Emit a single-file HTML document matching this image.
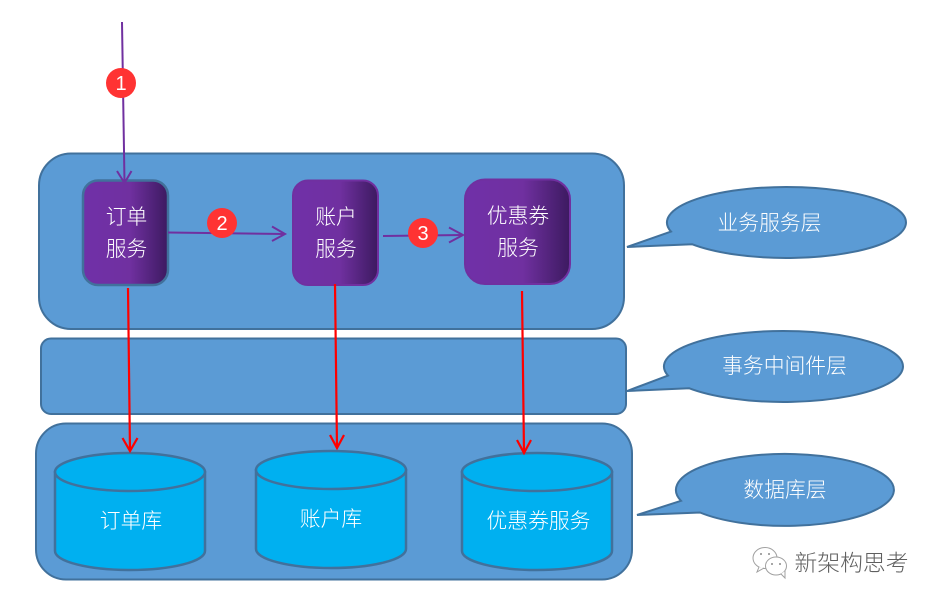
<!DOCTYPE html>
<html><head><meta charset="utf-8"><style>
html,body{margin:0;padding:0;background:#fff}
svg{display:block}
text{font-family:"Liberation Sans","Noto Sans CJK SC",sans-serif;fill:#fff;text-anchor:middle;font-weight:300}
</style></head><body>
<svg width="940" height="604" viewBox="0 0 940 604" xmlns="http://www.w3.org/2000/svg">
<defs>
<linearGradient id="g"><stop offset="0" stop-color="#7030a8"/><stop offset=".55" stop-color="#7030a0"/><stop offset="1" stop-color="#3c1a60"/></linearGradient>
</defs>
<rect width="940" height="604" fill="#fff"/>
<g fill="#5b9bd5" stroke="#41719c" stroke-width="2">
<rect x="39" y="153.500" width="585" height="175.500" rx="32"/>
<rect x="41" y="338.500" width="585" height="75.500" rx="10"/>
<rect x="36" y="423.500" width="596" height="156" rx="30"/>
<path d="M627 247 L671 231.600 A119.500 35.500 0 1 1 692 244.200 Z"/>
<path d="M627 391 L668 375.600 A119.500 35.500 0 1 1 689 388.200 Z"/>
<path d="M637 515 L681 500.800 A109 36 0 1 1 700 512.500 Z"/>
</g>
<g stroke="#41719c" stroke-width="2.500">
<rect x="83" y="180.500" width="85" height="104.500" rx="15" fill="url(#g)"/>
</g>
<g stroke="#7030a0" stroke-width="2">
<rect x="293" y="180.500" width="85" height="104.500" rx="15" fill="url(#g)"/>
<rect x="465" y="179.500" width="105" height="104.500" rx="20" fill="url(#g)"/>
</g>
<g fill="#00b0f0" stroke="#41719c" stroke-width="2.500">
<path d="M55 472 V551 A75 19 0 0 0 205 551 V472 Z"/><ellipse cx="130" cy="472" rx="75" ry="19"/>
<path d="M256 470 V549 A75 19 0 0 0 406 549 V470 Z"/><ellipse cx="331" cy="470" rx="75" ry="19"/>
<path d="M462 472 V551 A75 19 0 0 0 612 551 V472 Z"/><ellipse cx="537" cy="472" rx="75" ry="19"/>
</g>
<g fill="none" stroke="#7030a0" stroke-width="2">
<path d="M122 22 L124.500 183"/><path d="M117 171 L124.500 183 L131.500 171"/>
<path d="M168 232.500 L285 234"/><path d="M272 226.500 L285 234 L272 241"/>
<path d="M383 236 L463 235"/><path d="M449 227.500 L463 235 L449 242.500"/>
</g>
<g fill="none" stroke="#ff0000" stroke-width="2.200">
<path d="M128 288 L130 451"/><path d="M122.500 438 L130 451 L137.500 438"/>
<path d="M335 284 L337 448"/><path d="M330 435 L337 448 L344 435"/>
<path d="M522 291 L524 453"/><path d="M517 440 L524 453 L531 440"/>
</g>
<g fill="#ff3333">
<circle cx="121" cy="83" r="15"/><circle cx="222" cy="223" r="15"/><circle cx="423" cy="233" r="15"/>
</g>
<g font-size="20.800">
<text x="121" y="90" font-size="20">1</text><text x="222" y="230" font-size="20">2</text><text x="423" y="240" font-size="20">3</text>
<text x="126.500" y="224">订单</text><text x="126.500" y="256">服务</text>
<text x="336" y="224">账户</text><text x="336" y="256">服务</text>
<text x="518" y="223">优惠券</text><text x="518" y="255">服务</text>
<text x="131" y="528">订单库</text><text x="331" y="526">账户库</text><text x="538.500" y="528">优惠券服务</text>
<text x="769.500" y="230">业务服务层</text><text x="784.500" y="373">事务中间件层</text><text x="785" y="497">数据库层</text>
</g>
<g fill="#fff" stroke="#a0a0a0" stroke-width="1">
<ellipse cx="765" cy="558" rx="12" ry="10.500"/><path d="M759 567 L757 572 L764 568"/>
<ellipse cx="776" cy="566" rx="10.500" ry="9"/><path d="M781 574 L785 578 L785 571"/>
</g>
<g fill="#8a8a8a"><circle cx="761" cy="554" r="1"/><circle cx="769" cy="554" r="1"/><circle cx="772" cy="564" r="1"/><circle cx="780" cy="564" r="1"/></g>
<text x="851.500" y="571" font-size="22.800" style="fill:#5f5f5f">新架构思考</text>
</svg>
</body></html>
